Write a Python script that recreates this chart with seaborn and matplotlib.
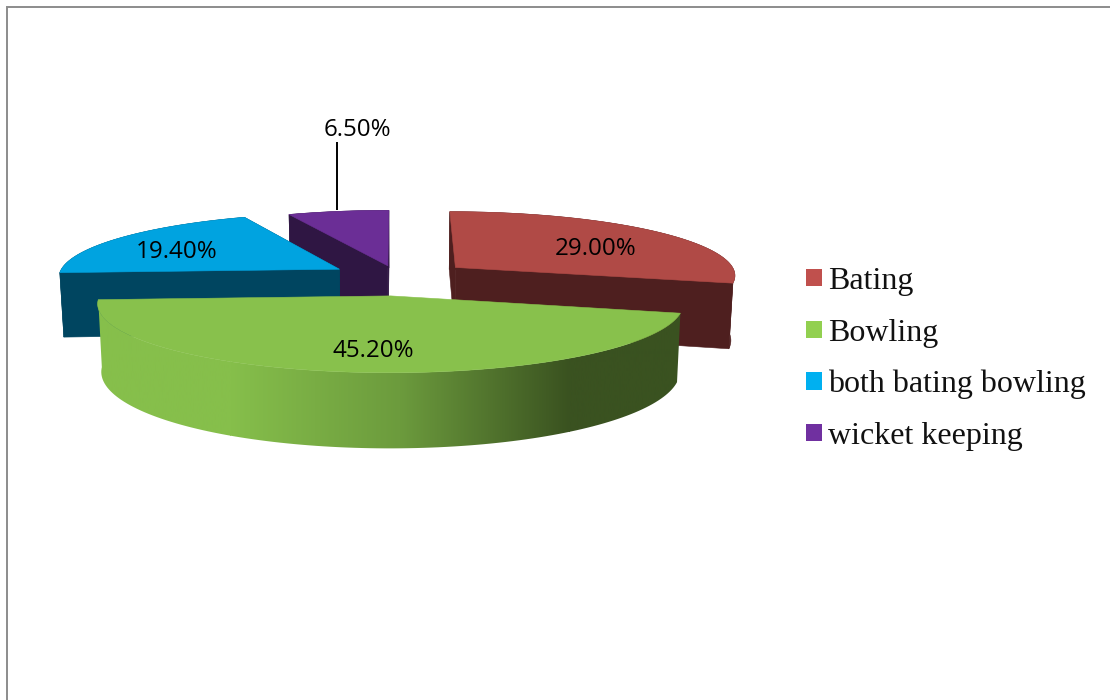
import numpy as np
import matplotlib
matplotlib.use("Agg")
import matplotlib.pyplot as plt
from matplotlib.patches import Patch, Polygon
import seaborn as sns

# chart data
categories = ["Bating", "Bowling", "both bating bowling", "wicket keeping"]
shares = [29.0, 45.2, 19.4, 6.5]
share_labels = ["29.00%", "45.20%", "19.40%", "6.50%"]

# colours per slice
legend_colors = ["#C0504D", "#92D050", "#00B0F0", "#7030A0"]
top_colors = ["#B04A46", "#88C14C", "#00A3E0", "#6B2E96"]
wall_colors = ["#4E1F1F", "#3A5220", "#004560", "#2F1643"]

# projection of the tilted disc
CENTER_X, CENTER_Y = 398.5, 277.5
RADIUS_X, RADIUS_Y = 282, 64
PERSPECTIVE = 0.11
THICKNESS = 65
TAPER = 0.988
EXPLODE = [0.26, 0.28, 0.25, 0.19]

label_xy = [(596, 249), (373, 351), (177, 252), (357, 130)]
leader_x, leader_y = 337, (142, 210)

sns.set_theme(style="white")

fig = plt.figure(figsize=(11.1, 7), dpi=100)
ax = fig.add_axes([0, 0, 1, 1])
ax.set_xlim(0, 1110)
ax.set_ylim(700, 0)
ax.axis("off")


def project(u, v, z=0.0):
    """Ground coordinates (u right, v towards viewer) to canvas pixels."""
    u, v = np.asarray(u, float), np.asarray(v, float)
    s = 1 / (1 - PERSPECTIVE * v)
    q = 1 - (1 - TAPER) * z
    return CENTER_X + RADIUS_X * u * s * q, CENTER_Y + RADIUS_Y * v * s + THICKNESS * s * z


def outline(a0, a1, apex, z=0.0, n=120):
    t = np.radians(np.linspace(a0, a1, n))
    return project(apex[0] + np.sin(t), apex[1] - np.cos(t), z)


def face(xs, ys, color, zorder):
    ax.add_patch(Polygon(np.column_stack([xs, ys]), closed=True, facecolor=color,
                         edgecolor=color, linewidth=0.4, zorder=zorder))


def cut_face(angle, apex, color, zorder):
    t = np.radians(angle)
    us = np.array([apex[0], apex[0] + np.sin(t)])
    vs = np.array([apex[1], apex[1] - np.cos(t)])
    x0, y0 = project(us, vs, 0)
    x1, y1 = project(us, vs, 1)
    face(np.r_[x0, x1[::-1]], np.r_[y0, y1[::-1]], color, zorder)


# slice angles, clockwise from twelve o'clock
edges = np.r_[0, np.cumsum(shares)] / np.sum(shares) * 360
green_shade = sns.blend_palette(["#86BF4B", "#6C9B3D", "#3A5220"], as_cmap=True)

# far slices first so the nearer ones overlap them
for order, i in enumerate([3, 2, 0, 1]):
    a0, a1 = edges[i], edges[i + 1]
    mid = np.radians((a0 + a1) / 2)
    apex = (EXPLODE[i] * np.sin(mid), -EXPLODE[i] * np.cos(mid))
    base = 10 + order * 10

    xt, yt = outline(a0, a1, apex, 0)
    xb, yb = outline(a0, a1, apex, 1)
    rim = np.column_stack([np.r_[xt, xb[::-1]], np.r_[yt, yb[::-1]]])
    if categories[i] == "Bowling":
        # shaded rim of the front slice: flat light, ramp, flat dark
        clip = Polygon(rim, closed=True, transform=ax.transData, facecolor="none", edgecolor="none")
        ax.add_patch(clip)
        ramp = np.linspace(0, 1, 256)[None, :]
        spans = [(ramp, (230, 570, 700, 0)), (ramp * 0, (80, 231, 700, 0)), (ramp * 0 + 1, (569, 700, 700, 0))]
        for values, extent in spans:
            im = ax.imshow(values, cmap=green_shade, vmin=0, vmax=1, extent=extent,
                           aspect="auto", zorder=base + 1)
            im.set_clip_path(clip)
    else:
        cut_face(a0, apex, wall_colors[i], base)
        cut_face(a1, apex, wall_colors[i], base)
        face(rim[:, 0], rim[:, 1], wall_colors[i], base + 1)

    ax_x, ax_y = project(apex[0], apex[1], 0)
    face(np.r_[ax_x, xt], np.r_[ax_y, yt], top_colors[i], base + 2)

ax.set_xlim(0, 1110)
ax.set_ylim(700, 0)

# leader line for the smallest slice
ax.plot([leader_x, leader_x], leader_y, color="black", lw=1.4, zorder=60, solid_capstyle="butt")

for label, (x, y) in zip(share_labels, label_xy):
    ax.text(x, y, label, ha="center", va="center", fontsize=17.4,
            family="Open Sans", color="black", zorder=70)

handles = [Patch(facecolor=c, edgecolor="none") for c in legend_colors]
ax.legend(handles, categories, loc="center left", bbox_to_anchor=(806 / 1110, 1 - 359 / 700),
          frameon=False, handlelength=0.5, handleheight=0.45, handletextpad=0.2,
          labelspacing=0.7, borderpad=0, borderaxespad=0,
          prop={"family": "Liberation Serif", "size": 23}, labelcolor="#111111")

# chart frame
ax.plot([6.5, 6.5, 1110], [700, 6.5, 6.5], color="#8C8C8C", lw=1.4, zorder=80, solid_joinstyle="miter")

fig.savefig("out.png", dpi=100, facecolor="white")
